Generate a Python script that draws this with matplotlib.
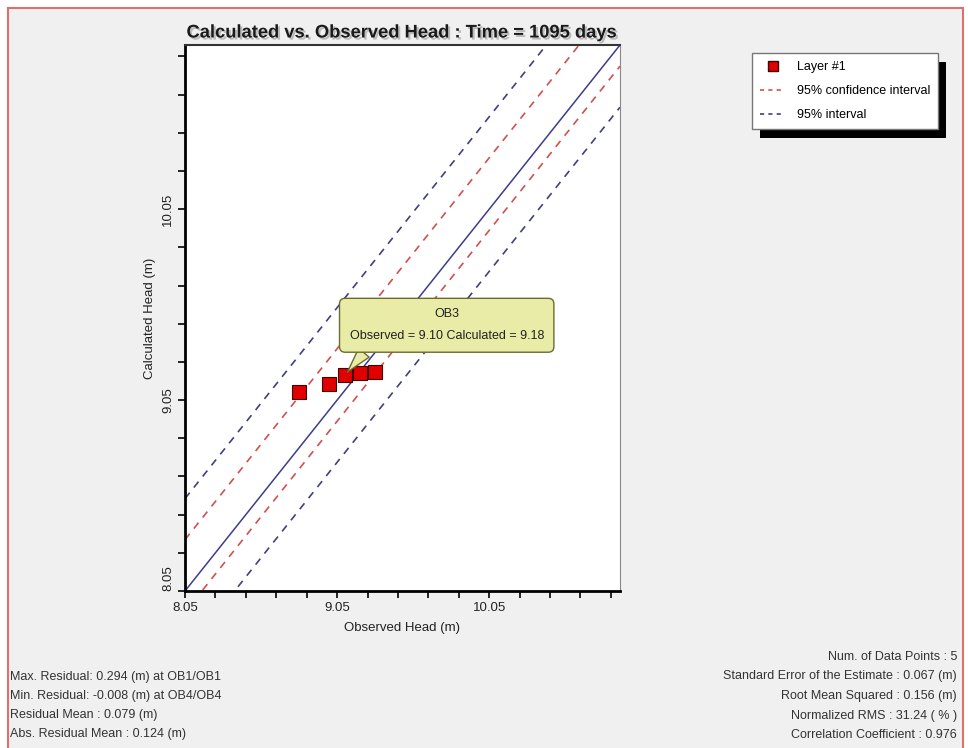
import numpy as np
import matplotlib
matplotlib.use("Agg")
import matplotlib.pyplot as plt
from matplotlib.patches import Rectangle
from matplotlib.lines import Line2D
import matplotlib.patheffects as pe

plt.rcParams['font.family'] = ['Liberation Sans', 'DejaVu Sans']

# ---- data ----
wells = ["OB1", "OB2", "OB3", "OB4", "OB5"]
observed = [8.80, 9.00, 9.10, 9.20, 9.30]
calculated = [9.094, 9.134, 9.18, 9.192, 9.196]
axis_min, axis_max = 8.05, 10.91
tick_labels = ["8.05", "9.05", "10.05"]
mean_residual = 0.079
conf_half = 0.19
pred_half = 0.405
title = "Calculated vs. Observed Head : Time = 1095 days"
left_stats = ["Max. Residual: 0.294 (m) at OB1/OB1",
              "Min. Residual: -0.008 (m) at OB4/OB4",
              "Residual Mean : 0.079 (m)",
              "Abs. Residual Mean : 0.124 (m)"]
right_stats = ["Num. of Data Points : 5",
               "Standard Error of the Estimate : 0.067 (m)",
               "Root Mean Squared : 0.156 (m)",
               "Normalized RMS : 31.24 ( % )",
               "Correlation Coefficient : 0.976"]

W, H = 968, 748
fig = plt.figure(figsize=(W / 100, H / 100), dpi=100, facecolor='white')

def fx(px):
    return px / W

def fy(py):
    return 1 - py / H

# outer panel with red border
fig.patches.append(Rectangle((fx(8), -0.01), fx(955), fy(8) + 0.01, transform=fig.transFigure,
                             facecolor='#f0f0f0', edgecolor='#e07070', lw=1.5, zorder=-5))

ax = fig.add_axes([fx(185), fy(591), fx(620 - 185), (591 - 45) / H])
ax.set_zorder(2)
ax.set_facecolor('white')
ax.set_xlim(axis_min, axis_max)
ax.set_ylim(axis_min, axis_max)

xs = np.array([axis_min, axis_max])
ax.plot(xs, xs, color='#3c3c8c', lw=1.1, zorder=2)
red = '#d05050'
blue = '#404080'
for off, col in [(mean_residual + conf_half, red), (mean_residual - conf_half, red),
                 (mean_residual + pred_half, blue), (mean_residual - pred_half, blue)]:
    ax.plot(xs, xs + off, color=col, lw=1.2, ls=(0, (4.5, 4)), zorder=2)

ax.plot(observed, calculated, ls='none', marker='s', ms=9.5, mfc='#e00000', mec='#400000',
        mew=0.8, zorder=4)

# ticks
ticks = np.round(np.arange(axis_min, axis_max, 0.2), 2)
labels = [t if t in tick_labels else "" for t in [f"{v:.2f}" for v in ticks]]
ax.set_xticks(ticks)
ax.set_xticklabels(labels, fontsize=9.5, color='#222222')
ax.set_yticks(ticks)
ax.set_yticklabels(labels, fontsize=9.5, color='#222222', rotation=90, va='center')
for lab in ax.get_yticklabels():
    if lab.get_text() == "8.05":
        lab.set_va('bottom')
ax.tick_params(direction='out', length=5, width=1.2, color='black', pad=3)
for s in ['left', 'bottom']:
    ax.spines[s].set_linewidth(2)
    ax.spines[s].set_color('black')
ax.spines['top'].set_linewidth(1.5)
ax.spines['top'].set_color('#333333')
ax.spines['right'].set_linewidth(0.8)
ax.spines['right'].set_color('#888888')

ax.set_xlabel("Observed Head (m)", fontsize=9.5, color='#222222', labelpad=6)
ax.set_ylabel("Calculated Head (m)", fontsize=9.5, color='#222222', labelpad=4)

fig.text(fx(402), fy(33), title, ha='center', va='center', fontsize=13.2, fontweight='bold',
         color='#1a1a1a',
         path_effects=[pe.SimplePatchShadow(offset=(1.5, -1.5), shadow_rgbFace='#999999', alpha=0.6),
                       pe.Normal()])

# tooltip annotation for OB3
i3 = wells.index("OB3")
ax.annotate(f"{wells[i3]}\nObserved = {observed[i3]:.2f} Calculated = {calculated[i3]:.2f}",
            xy=(observed[i3], calculated[i3]), xycoords='data',
            xytext=(102, 50), textcoords='offset pixels', ha='center', va='center',
            fontsize=9, color='#222222', linespacing=2.1, multialignment='center',
            bbox=dict(boxstyle='round,pad=0.8,rounding_size=0.45', fc='#e9eca6', ec='#6b6b30', lw=1),
            arrowprops=dict(arrowstyle='wedge,tail_width=1.1,shrink_factor=0.5', fc='#e9eca6',
                            ec='#6b6b30', lw=1, relpos=(0.12, 0.0), shrinkA=0, shrinkB=3),
            zorder=6)

# legend
handles = [Line2D([], [], ls='none', marker='s', ms=7, mfc='#e00000', mec='#400000'),
           Line2D([], [], color=red, lw=1.2, ls=(0, (2.5, 2.5))),
           Line2D([], [], color=blue, lw=1.2, ls=(0, (2.5, 2.5)))]
leg = fig.legend(handles, ["Layer #1", "95% confidence interval", "95% interval"],
                 loc='upper left', bbox_to_anchor=(fx(746), fy(47)), bbox_transform=fig.transFigure,
                 fancybox=False, framealpha=1, edgecolor='#777777', fontsize=9,
                 handlelength=2.0, handletextpad=0.9, labelspacing=0.95, borderpad=0.65)
leg.get_frame().set_linewidth(1.0)
leg.set_zorder(5)
fig.canvas.draw()
bb = leg.get_window_extent()
fig.patches.append(Rectangle(((bb.x0 + 8) / W, (bb.y0 - 9) / H), bb.width / W, bb.height / H,
                             transform=fig.transFigure, facecolor='black', edgecolor='none', zorder=1))

# stats text
for k, s in enumerate(left_stats):
    fig.text(fx(10), fy(677 + 19 * k), s, ha='left', va='center', fontsize=9, color='#333333')
for k, s in enumerate(right_stats):
    fig.text(fx(957), fy(657 + 19.5 * k), s, ha='right', va='center', fontsize=9, color='#333333')

fig.savefig("out.png", dpi=100, facecolor='white')
